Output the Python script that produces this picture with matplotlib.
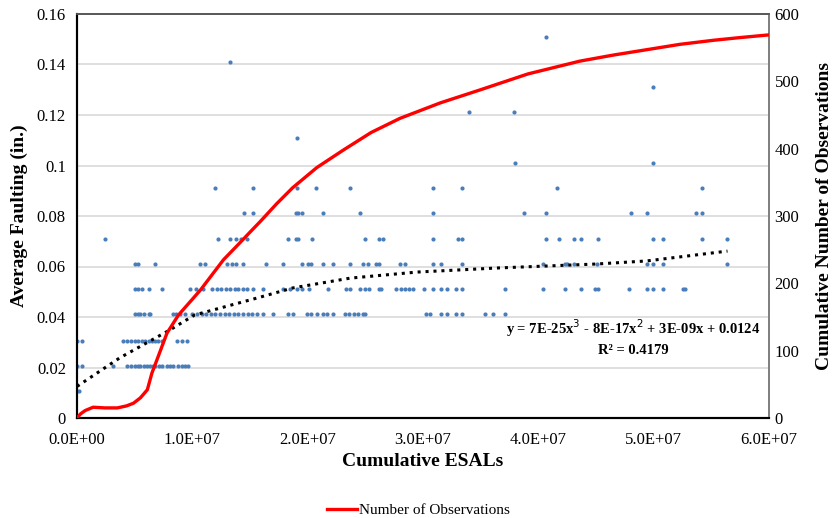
import numpy as np
from matplotlib import pyplot as plt

plt.rcParams['font.family'] = ['Liberation Serif', 'DejaVu Serif']

# cumulative ESALs (millions) of the measured points, grouped by faulting level
esal_010 = [0.0, 0.2]
esal_020 = [0.0, 0.43, 3.1, 4.3, 4.7, 5.0, 5.3, 5.5, 5.8, 6.1, 6.3, 6.6, 6.8, 7.1, 7.4,
            7.8, 8.1, 8.3, 8.8, 9.1, 9.4, 9.6]
esal_030 = [0.0, 0.43, 4.0, 4.3, 4.7, 5.0, 5.3, 5.6, 5.9, 6.2, 6.5, 6.8, 7.0, 7.4, 8.7,
            9.1, 9.5]
esal_040 = [5.0, 5.3, 5.5, 5.8, 6.2, 6.3, 8.3, 8.6, 8.9, 9.4, 10.0, 10.4, 10.8, 11.2,
            11.6, 12.0, 12.4, 12.8, 13.2, 13.6, 14.0, 14.4, 14.8, 15.2, 15.6, 16.1, 17.0,
            18.3, 18.7, 19.9, 20.3, 20.8, 21.3, 21.7, 22.2, 23.2, 23.6, 24.0, 24.4, 24.8,
            25.0, 30.3, 30.6, 31.6, 32.1, 32.9, 33.4, 35.4, 36.1, 37.1]
esal_050 = [5.0, 5.3, 5.6, 6.2, 7.4, 9.8, 10.3, 10.9, 11.7, 12.1, 12.5, 12.9, 13.3, 13.7,
            14.0, 14.4, 14.7, 15.3, 16.1, 17.9, 18.5, 19.1, 19.5, 20.1, 21.8, 23.3, 23.7,
            24.5, 25.0, 25.3, 26.2, 26.4, 27.7, 28.1, 28.4, 28.8, 29.1, 30.1, 30.9, 31.6,
            32.1, 32.9, 33.4, 37.1, 40.4, 42.3, 43.7, 44.9, 45.2, 47.9, 49.4, 49.9, 50.8,
            52.5, 52.7]
esal_060 = [5.0, 5.3, 6.8, 10.7, 11.1, 13.0, 13.4, 13.8, 14.4, 16.4, 17.9, 19.5, 20.0,
            20.3, 21.3, 22.2, 23.7, 24.8, 25.2, 25.9, 26.2, 28.0, 28.4, 30.9, 31.6, 33.4,
            40.4, 42.3, 42.5, 43.1, 45.1, 49.4, 49.9, 50.8, 56.4]
esal_070 = [2.4, 12.2, 13.3, 13.8, 14.2, 14.7, 18.3, 19.0, 19.2, 20.4, 25.0, 26.2, 26.5,
            30.9, 33.0, 33.4, 40.7, 41.8, 43.1, 43.7, 45.2, 49.9, 50.8, 54.2, 56.4]
esal_080 = [14.5, 15.3, 19.0, 19.2, 19.5, 21.3, 24.5, 30.9, 38.8, 40.7, 48.0, 49.4, 53.7,
            54.2]
esal_090 = [12.0, 15.3, 19.1, 20.7, 23.7, 30.9, 33.4, 41.6, 54.2]
esal_100 = [38.0, 49.9]
esal_110 = [19.1]
esal_120 = [34.0, 37.9]
esal_130 = [49.9]
esal_140 = [13.3]
esal_150 = [40.7]

level_esals = [esal_010, esal_020, esal_030, esal_040, esal_050, esal_060, esal_070,
               esal_080, esal_090, esal_100, esal_110, esal_120, esal_130, esal_140, esal_150]
levels = [0.0105, 0.0205, 0.0305, 0.041, 0.051, 0.061, 0.071, 0.081, 0.091, 0.101,
          0.111, 0.121, 0.131, 0.141, 0.151]

# polynomial trendline
trend_esal = [0.0, 3.7, 8.06, 10.2, 15.6, 18.7, 23.7, 29.5, 36.4, 45.1, 49.4, 56.4]
trend_fault = [0.0125, 0.0238, 0.0349, 0.0408, 0.0475, 0.0515, 0.0554, 0.0578, 0.0594,
               0.061, 0.0622, 0.0661]

# cumulative number of observations
obs_esal = [0.0, 0.3, 0.7, 1.4, 2.4, 3.5, 4.3, 4.9, 5.5, 6.1, 6.5, 6.9, 7.8, 8.8, 10.7,
            12.7, 14.0, 15.0, 15.9, 17.3, 18.7, 20.8, 23.1, 25.5, 28.0, 31.5, 34.9, 39.1,
            43.6, 46.5, 49.4, 52.3, 55.2, 57.5, 60.0]
obs_count = [0, 6, 11, 16, 15, 15, 18, 22, 30, 42, 67, 85, 126, 153, 190, 235, 258, 276,
             292, 318, 342, 372, 398, 424, 445, 468, 487, 511, 530, 539, 547, 555, 561,
             565, 569]

x_ticks = [0, 1e7, 2e7, 3e7, 4e7, 5e7, 6e7]
x_labels = ['0.0E+00', '1.0E+07', '2.0E+07', '3.0E+07', '4.0E+07', '5.0E+07', '6.0E+07']
y_ticks = [0, 0.02, 0.04, 0.06, 0.08, 0.1, 0.12, 0.14, 0.16]
y_labels = ['0', '0.02', '0.04', '0.06', '0.08', '0.1', '0.12', '0.14', '0.16']
y2_ticks = [0, 100, 200, 300, 400, 500, 600]

pts_x = np.concatenate([np.array(e) * 1e6 for e in level_esals])
pts_y = np.concatenate([[lv] * len(e) for lv, e in zip(levels, level_esals)])

fig = plt.figure(figsize=(8.36, 5.18), dpi=100)
ax = fig.add_axes([77 / 836, 1 - 418 / 518, 692 / 836, 404 / 518])

ax.scatter(pts_x, pts_y, s=9, c='#4a7ebb', linewidths=0, zorder=3)
ax.plot(np.array(trend_esal) * 1e6, trend_fault, color='black', linestyle=(0, (1, 1.6)),
        linewidth=2.2, zorder=4)

ax.set_xlim(0, 6e7)
ax.set_ylim(0, 0.16)
ax.set_xticks(x_ticks)
ax.set_xticklabels(x_labels)
ax.set_yticks(y_ticks)
ax.set_yticklabels(y_labels)
ax.grid(axis='y', color='#d9d9d9', linewidth=1.2)
ax.set_axisbelow(True)
ax.tick_params(length=0, labelsize=12, pad=8)
ax.tick_params(axis='x', pad=10)
ax.set_xlabel('Cumulative ESALs', fontsize=14, fontweight='bold', labelpad=4)
ax.set_ylabel('Average Faulting (in.)', fontsize=14, fontweight='bold', labelpad=6)

ax2 = ax.twinx()
ax2.plot(np.array(obs_esal) * 1e6, obs_count, color='#ff0000', linewidth=2.4,
         label='Number of Observations', zorder=5)
ax2.set_ylim(0, 600)
ax2.set_yticks(y2_ticks)
ax2.tick_params(length=0, labelsize=12, pad=4)
ax2.set_ylabel('Cumulative Number of Observations', fontsize=14, fontweight='bold',
               labelpad=12)

for a in (ax, ax2):
    a.spines['left'].set_color('black')
    a.spines['bottom'].set_color('black')
    a.spines['left'].set_linewidth(1.5)
    a.spines['bottom'].set_linewidth(1.5)
    a.spines['top'].set_color('#595959')
    a.spines['right'].set_color('#808080')
    a.spines['top'].set_linewidth(1.3)
    a.spines['right'].set_linewidth(1.3)

ax.text(0.804, 0.222, 'y = 7E-25x$^3$ - 8E-17x$^2$ + 3E-09x + 0.0124', transform=ax.transAxes,
        ha='center', va='center', fontsize=10.5, fontweight='bold')
ax.text(0.804, 0.168, 'R² = 0.4179', transform=ax.transAxes,
        ha='center', va='center', fontsize=10.5, fontweight='bold')

fig.legend(loc='lower center', bbox_to_anchor=(0.5, -0.025), frameon=False, fontsize=11,
           handlelength=2.0, handletextpad=0.1)

fig.savefig('out.png', dpi=100)
